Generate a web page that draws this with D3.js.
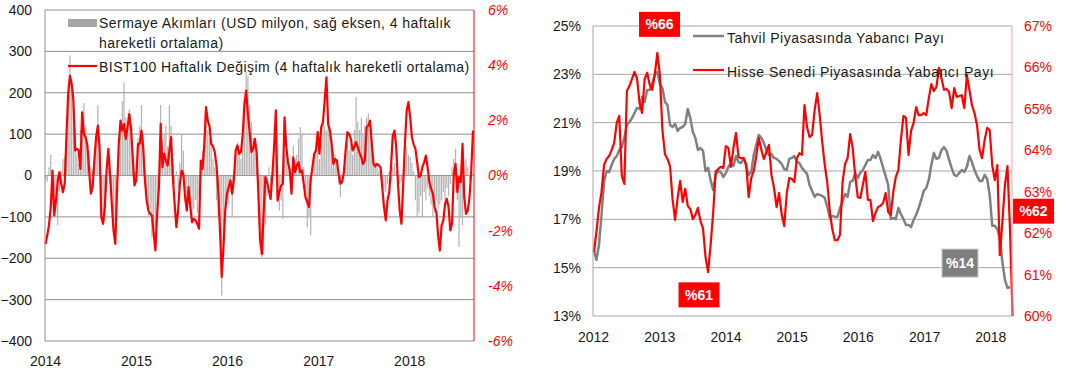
<!DOCTYPE html>
<html>
<head>
<meta charset="utf-8">
<script src="https://cdn.jsdelivr.net/npm/d3@7"></script>
<style>
    body { margin: 0; background: #fff; }
    svg { display: block; font-family: "Liberation Sans", Arial, sans-serif; }
</style>
</head>
<body>
<svg id="chart" width="1067" height="372"></svg>
<script>
// ---- left chart: weekly, 4 week moving averages ----
const flowStart = '2014-01-03';
// Sermaye akimlari, USD milyon
const capitalFlows = [
    -10,-15,20,50,-60,-100,-80,-120,-40,10,
    40,45,115,200,290,230,190,110,50,30,
    110,130,175,120,80,60,20,15,40,90,
    170,60,-50,-100,-110,-40,30,-20,-80,-140,
    -110,-20,60,130,180,225,140,130,160,100,
    40,10,30,90,120,170,100,-10,-40,-100,
    -80,-150,-140,-170,-90,-10,170,80,100,120,
    70,170,120,40,-20,10,-30,30,100,60,
    -40,-60,-30,-60,-100,-80,-60,-90,-50,30,
    60,100,157,110,90,76,40,20,-60,-100,
    -150,-290,-200,-110,-60,-70,-40,-100,-20,50,
    80,60,40,100,180,250,240,170,130,90,
    80,40,-30,-120,-197,-190,-120,-50,20,-30,
    10,40,60,-40,-85,-60,-105,50,70,40,
    20,-20,72,40,50,90,117,100,20,-50,
    -125,-100,-145,20,50,70,60,40,90,140,
    120,110,130,100,90,60,50,30,-20,-52,
    -10,20,60,80,60,75,50,110,190,130,
    110,140,100,120,140,150,120,90,40,30,
    20,10,15,-10,-30,-40,-20,10,-15,20,
    30,10,-10,-20,-15,10,40,70,50,45,
    30,10,-60,-100,-90,-50,-100,-40,-60,-30,
    -50,-70,-100,-90,-60,-80,-70,-60,-40,-60,
    -30,-50,-20,20,40,65,-60,-173,-100,-120,
    -60,40,20,-10,10,5
];
// BIST100 haftalik degisim, %
const bistChange = [
    -2.48,-2.17,-1.81,-1.15,0.18,-1.45,-0.91,-0.21,0.12,-0.30,
    -0.60,-0.30,1.39,2.96,3.62,3.32,2.72,0.91,0.97,0.91,
    0.24,2.29,1.51,1.39,1.09,0.18,-0.66,-0.42,0.54,1.39,
    1.81,1.03,-1.51,-1.75,-1.15,0.18,0.97,0.06,-1.03,-1.99,
    -2.48,-0.54,1.15,1.99,1.63,1.87,1.33,1.75,2.23,1.75,
    0.66,-0.36,-0.18,1.15,1.15,1.63,1.03,-0.18,-0.91,-1.27,
    -1.39,-1.45,-2.11,-2.72,-1.39,-0.42,1.87,0.30,0.79,0.54,
    0.36,0.91,1.39,-0.06,-1.03,-1.87,-1.27,-0.30,0.18,0.06,
    -0.79,-1.27,-0.42,-1.15,-1.69,-1.57,-1.63,-1.75,-1.93,0.54,
    0.24,1.09,2.48,1.99,1.78,1.15,1.06,0.85,0.36,-0.54,
    -1.99,-3.68,-2.60,-1.27,-0.66,-0.42,-0.18,-0.66,-0.12,0.91,
    1.09,0.79,0.85,1.45,2.60,3.08,2.23,1.57,0.85,0.97,
    1.33,0.85,-0.66,-2.36,-2.84,-1.39,-0.06,-0.24,-0.54,-0.85,
    0,1.03,2.36,-0.91,-0.60,-0.36,-0.30,2.11,1.03,0.48,
    0.18,-0.66,0.66,0.12,0.36,0.48,0.12,0.18,-0.30,-0.79,
    -0.97,-1.15,-0.12,0.30,0.79,0.91,1.57,0.79,1.75,1.93,
    2.72,3.56,1.87,1.63,1.15,0.42,0.60,0.54,0.06,-0.30,
    -0.24,0.12,0.91,1.57,1.51,1.33,0.91,1.03,1.21,1.03,
    0.81,0.66,0.42,0.54,1.75,1.81,1.99,1.15,0.42,0.33,
    0.42,0.36,0.30,-0.42,-1.15,-1.63,-0.91,-0.60,0.30,1.45,
    1.63,1.03,-0.30,-1.27,-1.75,-0.30,1.15,2.36,2.66,2.11,
    1.39,1.12,0.97,0.48,-0.06,0,0.30,0.48,0.72,0.30,
    -0.24,-0.48,-0.66,-1.15,-1.33,-2.17,-2.72,-1.81,-1.63,-1.03,
    -0.85,-1.15,-1.99,-1.75,0.06,0.42,-0.60,-0.06,-0.24,1.15,
    -0.79,-1.39,-1.27,-0.79,0.18,1.63
];
const flowTicks = [-400, -300, -200, -100, 0, 100, 200, 300, 400];
const changeTicks = [-6, -4, -2, 0, 2, 4, 6];

// ---- right chart: every two weeks ----
const shareStart = '2012-01-06';
// Tahvil piyasasinda yabanci payi, %
const bondShare = [
    15.73,15.32,15.94,17.18,18.55,19.00,18.96,19.25,19.50,19.62,
    19.87,19.99,20.37,20.90,21.03,21.19,21.40,21.61,21.57,22.06,
    21.86,22.35,22.35,22.64,22.97,23.10,22.60,22.43,21.86,21.73,
    20.90,20.82,20.95,20.66,20.78,20.82,20.95,21.57,21.19,20.61,
    20.37,19.87,19.95,19.83,19.00,19.13,18.63,18.21,18.84,19.00,
    18.96,18.75,18.92,19.17,19.33,19.21,19.62,19.37,19.33,19.54,
    19.21,18.84,18.96,19.66,20.08,20.49,20.37,20.16,19.87,19.66,
    19.70,19.54,19.50,19.41,19.29,19.08,19.04,19.50,19.54,19.62,
    19.37,19.33,19.13,19.00,18.88,18.42,18.17,17.93,18.05,18.01,
    17.97,17.88,17.51,17.06,17.14,17.10,17.10,17.47,17.72,18.05,
    17.93,18.55,18.59,18.92,18.71,18.92,19.04,19.25,19.46,19.46,
    19.66,19.54,19.79,19.50,19.13,18.79,18.42,17.01,17.06,17.01,
    17.47,17.22,17.01,16.77,16.77,16.68,16.97,17.18,17.47,17.80,
    18.17,18.30,18.63,19.25,19.75,19.50,19.54,19.87,19.99,19.83,
    19.46,19.13,18.84,18.79,18.92,19.04,18.96,19.17,19.62,19.37,
    19.04,18.79,18.59,18.59,18.84,18.67,18.01,16.73,16.73,16.60,
    16.23,15.24,14.49,14.16,14.20
];
// Hisse senedi piyasasinda yabanci payi, %
const equityShare = [
    61.55,62.03,62.61,62.99,63.64,63.79,63.86,64.01,64.18,64.66,
    64.83,63.38,63.19,65.43,65.55,65.72,65.89,65.74,65.14,64.90,
    65.72,65.87,65.58,65.46,65.84,66.35,65.82,64.49,63.91,63.79,
    63.62,62.82,62.32,62.85,63.26,62.75,63.07,62.66,62.58,62.34,
    62.44,62.61,62.29,62.12,61.42,61.06,61.71,62.49,63.48,63.55,
    63.60,63.57,64.10,64.06,63.60,64.06,64.42,63.84,63.81,63.81,
    63.67,62.87,63.33,63.50,63.86,64.30,64.01,63.79,63.96,64.13,
    63.40,63.09,62.63,62.97,62.46,62.17,62.95,63.33,63.31,63.23,
    63.81,63.93,63.89,65.09,64.56,64.32,64.37,64.97,65.38,64.85,
    64.20,63.64,63.21,62.51,62.08,61.83,61.83,61.96,63.23,63.67,
    63.81,64.39,64.06,63.38,62.87,62.85,63.16,63.48,62.80,62.80,
    62.29,62.49,62.63,62.66,62.73,62.97,62.51,62.44,62.99,63.36,
    63.52,64.25,64.83,64.78,63.89,64.47,64.66,65.04,64.85,64.85,
    64.90,64.85,65.26,65.60,65.43,65.53,65.99,65.74,65.46,65.48,
    65.41,65.02,65.50,65.29,65.31,65.33,65.02,65.82,65.46,65.09,
    64.90,64.61,64.01,63.81,64.25,64.54,64.49,63.64,63.28,63.64,
    61.47,62.27,63.16,63.62,62.08,60.00
];
const bondTicks = [13, 15, 17, 19, 21, 23, 25];
const equityTicks = [60, 61, 62, 63, 64, 65, 66, 67];
const annotations = [
    { label: '%66', date: '2013-01-02', value: 67.04, axis: 'equity' },
    { label: '%61', date: '2013-08-08', value: 60.51, axis: 'equity' },
    { label: '%62', date: '2018-08-28', value: 62.53, axis: 'equity' },
    { label: '%14', date: '2017-07-18', value: 15.19, axis: 'bond' }
];

const RED = '#ff0000';
const GRID = '#8f8f8f';
const TEXT = '#1a1a1a';
const parse = d3.timeParse('%Y-%m-%d');
const svg = d3.select('#chart');

// helper: tick labels only, no domain or tick marks
function labels(g, axis, color, italic) {
    g.call(axis);
    g.select('.domain').remove();
    g.selectAll('text')
        .attr('fill', color)
        .style('font-size', '14px')
        .style('font-style', italic ? 'italic' : 'normal');
}

// ================= left chart =================
(function() {
    const left = 45, right = 474, top = 10, bottom = 341;
    const weeks = capitalFlows.map((d, i) => d3.timeDay.offset(parse(flowStart), 7 * i));

    const x = d3.scaleTime()
        .domain([new Date(2014, 0, 1), new Date(2018, 8, 18)])
        .range([left, right]);
    const yL = d3.scaleLinear().domain([-400, 400]).range([bottom, top]);
    const yR = d3.scaleLinear().domain([-6, 6]).range([bottom, top]);

    const g = svg.append('g');

    // gridlines
    g.selectAll('.grid')
        .data(flowTicks)
        .enter()
        .append('line')
        .attr('x1', left).attr('x2', right)
        .attr('y1', d => yL(d)).attr('y2', d => yL(d))
        .style('stroke', GRID)
        .style('stroke-width', 1);

    // capital flow bars
    g.selectAll('.bar')
        .data(capitalFlows)
        .enter()
        .append('rect')
        .attr('x', (d, i) => x(weeks[i]) - 0.6)
        .attr('width', 1.2)
        .attr('y', d => yL(Math.max(0, d)))
        .attr('height', d => Math.abs(yL(d) - yL(0)))
        .style('fill', '#b3b3b3');

    // BIST line
    g.append('path')
        .datum(bistChange)
        .attr('d', d3.line().x((d, i) => x(weeks[i])).y(d => yR(d)))
        .style('fill', 'none')
        .style('stroke', RED)
        .style('stroke-width', 2.2)
        .style('stroke-linejoin', 'round');

    // axis lines
    g.append('line').attr('x1', left).attr('x2', left).attr('y1', top).attr('y2', bottom)
        .style('stroke', GRID);
    g.append('line').attr('x1', right).attr('x2', right).attr('y1', top).attr('y2', bottom)
        .style('stroke', RED);

    g.append('g').attr('transform', `translate(${left},0)`)
        .call(s => labels(s, d3.axisLeft(yL).tickValues(flowTicks).tickSize(0).tickPadding(13), TEXT, false));
    g.append('g').attr('transform', `translate(${right},0)`)
        .call(s => labels(s, d3.axisRight(yR).tickValues(changeTicks).tickSize(0).tickPadding(14)
            .tickFormat(d => d + '%'), RED, true));
    g.append('g').attr('transform', `translate(0,${bottom})`)
        .call(s => labels(s, d3.axisBottom(x).ticks(d3.timeYear.every(1)).tickSize(0).tickPadding(15)
            .tickFormat(d3.timeFormat('%Y')), TEXT, false));

    // legend
    const lg = g.append('g').style('font-size', '14px').style('letter-spacing', '0.45px').attr('fill', TEXT);
    lg.append('rect').attr('x', 68).attr('y', 19).attr('width', 29).attr('height', 8).style('fill', '#a6a6a6');
    lg.append('text').attr('x', 99).attr('y', 28).text('Sermaye Akımları (USD milyon, sağ eksen, 4 haftalık');
    lg.append('text').attr('x', 99).attr('y', 48).text('hareketli ortalama)');
    lg.append('line').attr('x1', 68).attr('x2', 97).attr('y1', 66).attr('y2', 66)
        .style('stroke', RED).style('stroke-width', 2.2);
    lg.append('text').attr('x', 99).attr('y', 72).text('BIST100 Haftalık Değişim (4 haftalık hareketli ortalama)');
})();

// ================= right chart =================
(function() {
    const left = 593, right = 1012, top = 26, bottom = 316;
    const dates = equityShare.map((d, i) => d3.timeDay.offset(parse(shareStart), 14 * i));

    const x = d3.scaleTime()
        .domain([new Date(2012, 0, 1), new Date(2018, 4, 1)])
        .range([left, right]);
    const yB = d3.scaleLinear().domain([13, 25]).range([bottom, top]);
    const yE = d3.scaleLinear().domain([60, 67]).range([bottom, top]);

    const g = svg.append('g');

    g.selectAll('.grid')
        .data(bondTicks)
        .enter()
        .append('line')
        .attr('x1', left).attr('x2', right)
        .attr('y1', d => yB(d)).attr('y2', d => yB(d))
        .style('stroke', '#a6a6a6')
        .style('stroke-width', 1);

    g.append('path')
        .datum(bondShare)
        .attr('d', d3.line().x((d, i) => x(dates[i])).y(d => yB(d)))
        .style('fill', 'none')
        .style('stroke', '#808080')
        .style('stroke-width', 2.5)
        .style('stroke-linejoin', 'round');

    g.append('path')
        .datum(equityShare)
        .attr('d', d3.line().x((d, i) => x(dates[i])).y(d => yE(d)))
        .style('fill', 'none')
        .style('stroke', RED)
        .style('stroke-width', 2.2)
        .style('stroke-linejoin', 'round');

    g.append('line').attr('x1', left).attr('x2', left).attr('y1', top).attr('y2', bottom)
        .style('stroke', '#a6a6a6');
    g.append('line').attr('x1', right).attr('x2', right).attr('y1', top).attr('y2', bottom)
        .style('stroke', '#eba3a3');

    g.append('g').attr('transform', `translate(${left},0)`)
        .call(s => labels(s, d3.axisLeft(yB).tickValues(bondTicks).tickSize(0).tickPadding(12)
            .tickFormat(d => d + '%'), TEXT, false));
    g.append('g').attr('transform', `translate(${right},0)`)
        .call(s => labels(s, d3.axisRight(yE).tickValues(equityTicks).tickSize(0).tickPadding(12)
            .tickFormat(d => d + '%'), RED, false));
    g.append('g').attr('transform', `translate(0,${bottom})`)
        .call(s => labels(s, d3.axisBottom(x).ticks(d3.timeYear.every(1)).tickSize(0).tickPadding(16)
            .tickFormat(d3.timeFormat('%Y')), TEXT, false));

    // legend
    const lg = g.append('g').style('font-size', '14px').style('letter-spacing', '0.5px').attr('fill', TEXT);
    lg.append('line').attr('x1', 693).attr('x2', 724).attr('y1', 36).attr('y2', 36)
        .style('stroke', '#808080').style('stroke-width', 2.5);
    lg.append('text').attr('x', 727).attr('y', 43).text('Tahvil Piyasasında Yabancı Payı');
    lg.append('line').attr('x1', 693).attr('x2', 724).attr('y1', 70).attr('y2', 70)
        .style('stroke', RED).style('stroke-width', 2.2);
    lg.append('text').attr('x', 727).attr('y', 77).text('Hisse Senedi Piyasasında Yabancı Payı');

    // value callouts
    const boxes = g.selectAll('.callout')
        .data(annotations)
        .enter()
        .append('g')
        .attr('transform', d => {
            const y = d.axis === 'bond' ? yB(d.value) : yE(d.value);
            return `translate(${x(parse(d.date))},${y})`;
        });
    boxes.append('rect')
        .attr('x', d => d.axis === 'bond' ? -18 : -20.5)
        .attr('y', d => d.axis === 'bond' ? -14 : -12.5)
        .attr('width', d => d.axis === 'bond' ? 36 : 41)
        .attr('height', d => d.axis === 'bond' ? 28 : 25)
        .style('fill', d => d.axis === 'bond' ? '#7f7f7f' : RED)
        .style('stroke', d => d.axis === 'bond' ? '#c8c8c8' : 'none');
    boxes.append('text')
        .attr('text-anchor', 'middle')
        .attr('dy', '0.36em')
        .style('font-size', '14px')
        .style('font-weight', 'bold')
        .attr('fill', '#fff')
        .text(d => d.label);
})();
</script>
</body>
</html>
